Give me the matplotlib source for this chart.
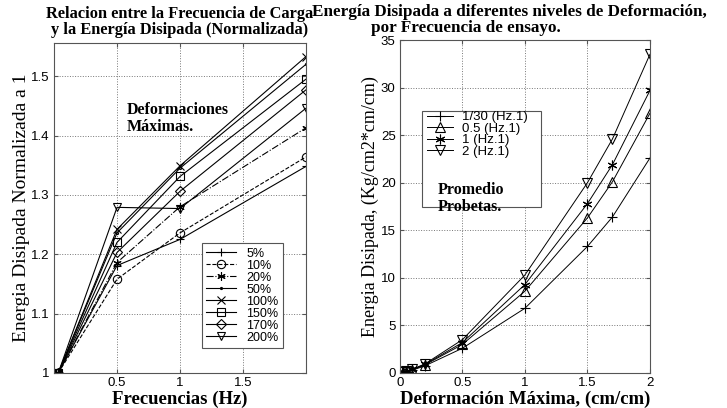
import numpy as np
import matplotlib.pyplot as plt
from matplotlib.patches import Rectangle

# datos: energia normalizada vs frecuencia
frecuencias = [1 / 30, 0.5, 1.0, 2.0]
etiquetas_def = ['5%', '10%', '20%', '50%', '100%', '150%', '170%', '200%']
energia_norm = [
    [1.0, 1.181, 1.225, 1.348],   # 5%
    [1.0, 1.158, 1.236, 1.364],   # 10%
    [1.0, 1.186, 1.280, 1.413],   # 20%
    [1.0, 1.236, 1.345, 1.520],   # 50%
    [1.0, 1.242, 1.349, 1.533],   # 100%
    [1.0, 1.220, 1.331, 1.495],   # 150%
    [1.0, 1.203, 1.306, 1.477],   # 170%
    [1.0, 1.279, 1.277, 1.446],   # 200%
]
asterisco = (6, 2, 0)
marcadores_izq = ['+', 'o', asterisco, '.', 'x', 's', 'D', 'v']
estilos_izq = ['-', '--', '-.', '-', '-', '-', '-', '-']

# datos: energia disipada vs deformacion maxima
deformacion = [0.025, 0.05, 0.1, 0.2, 0.5, 1.0, 1.5, 1.7, 2.0]
etiquetas_frec = ['1/30 (Hz.1)', '0.5 (Hz.1)', '1 (Hz.1)', '2 (Hz.1)']
energia = [
    [0.05, 0.12, 0.30, 0.75, 2.6, 6.8, 13.3, 16.4, 22.6],
    [0.06, 0.14, 0.35, 0.85, 3.0, 8.6, 16.3, 20.1, 27.3],
    [0.06, 0.15, 0.37, 0.90, 3.2, 9.3, 17.8, 21.9, 29.7],
    [0.07, 0.17, 0.40, 0.95, 3.5, 10.3, 20.0, 24.6, 33.5],
]
marcadores_der = ['+', '^', asterisco, 'v']

serif = ['Liberation Serif', 'DejaVu Serif']
sans = ['Liberation Sans', 'DejaVu Sans']
plt.rcParams['font.family'] = sans

fig = plt.figure(figsize=(7.27, 4.08), dpi=100)
ax1 = fig.add_axes([0.0743, 0.0858, 0.3466, 0.809])
ax2 = fig.add_axes([0.550, 0.0858, 0.344, 0.816])

for ax in (ax1, ax2):
    ax.grid(True, linestyle=':', color='#777777', linewidth=0.7)
    ax.tick_params(direction='in', length=3, labelsize=9.5, top=True, right=True,
                   color='#555555', pad=3)
    for s in ax.spines.values():
        s.set_color('#555555')
        s.set_linewidth(0.8)

# --- grafico izquierdo ---
for vals, lab, m, ls in zip(energia_norm, etiquetas_def, marcadores_izq, estilos_izq):
    ms = 6
    if m == 'D':
        ms = 5
    elif m == '.':
        ms = 3
    ax1.plot(frecuencias, vals, linestyle=ls, marker=m, color='black', linewidth=0.8,
             markersize=ms, markerfacecolor='none', markeredgewidth=0.8, label=lab)
ax1.set_xlim(0, 2)
ax1.set_ylim(1, 1.556)
ax1.set_xticks([0.5, 1, 1.5])
ax1.set_xticklabels(['0.5', '1', '1.5'])
ax1.set_yticks([1, 1.1, 1.2, 1.3, 1.4, 1.5])
ax1.set_yticklabels(['1', '1.1', '1.2', '1.3', '1.4', '1.5'])
ax1.set_xlabel('Frecuencias (Hz)', family=serif, fontweight='bold', fontsize=13.5, labelpad=1)
ax1.set_ylabel('Energia Disipada Normalizada a 1', family=serif, fontsize=14, labelpad=1)
fig.text(180 / 727, 1 - 14 / 408, 'Relacion entre la Frecuencia de Carga',
         family=serif, fontweight='bold', fontsize=11.8, va='center', ha='center')
fig.text(180 / 727, 1 - 30 / 408, 'y la Energía Disipada (Normalizada)',
         family=serif, fontweight='bold', fontsize=11.8, va='center', ha='center')
leg1 = ax1.legend(loc='lower left', bbox_to_anchor=(0.586, 0.075), fontsize=9,
                  labelspacing=0, handlelength=2.4, handletextpad=0.8,
                  borderpad=0.35, borderaxespad=0, fancybox=False, edgecolor='#555555',
                  framealpha=1)
leg1.get_frame().set_linewidth(0.8)
ax1.text(0.29, 0.82, 'Deformaciones\nMáximas.', transform=ax1.transAxes, family=serif,
         fontweight='bold', fontsize=11.5, va='top', linespacing=1.05)

# --- grafico derecho ---
for vals, lab, m in zip(energia, etiquetas_frec, marcadores_der):
    ax2.plot(deformacion, vals, linestyle='-', marker=m, color='black', linewidth=0.7,
             markersize=7, markerfacecolor='none', markeredgewidth=0.8, label=lab)
ax2.set_xlim(0, 2)
ax2.set_ylim(0, 35)
ax2.set_xticks([0, 0.5, 1, 1.5, 2])
ax2.set_xticklabels(['0', '0.5', '1', '1.5', '2'])
ax2.set_yticks(range(0, 36, 5))
ax2.set_xlabel('Deformación Máxima, (cm/cm)', family=serif, fontweight='bold', fontsize=13.5,
               labelpad=1)
ax2.set_ylabel('Energia Disipada, (Kg/cm2*cm/cm)', family=serif, fontsize=13, labelpad=1)
fig.text(312 / 727, 1 - 12 / 408, 'Energía Disipada a diferentes niveles de Deformación,',
         family=serif, fontweight='bold', fontsize=12.3, va='center', ha='left')
fig.text(371 / 727, 1 - 28 / 408, 'por Frecuencia de ensayo.',
         family=serif, fontweight='bold', fontsize=12.3, va='center', ha='left')
ax2.add_patch(Rectangle((0.088, 0.498), 0.476, 0.29, transform=ax2.transAxes,
                        facecolor='white', edgecolor='#555555', linewidth=0.8, zorder=4))
leg2 = ax2.legend(loc='upper left', bbox_to_anchor=(0.1, 0.795), fontsize=9.5,
                  labelspacing=-0.05, handlelength=1.9, handletextpad=0.7,
                  borderpad=0.2, borderaxespad=0, frameon=False)
leg2.set_zorder(5)
ax2.text(0.152, 0.525, 'Promedio\nProbetas.', transform=ax2.transAxes, family=serif,
         fontweight='bold', fontsize=11.5, va='center', linespacing=1.05, zorder=6)

fig.savefig('out.png', dpi=100)
